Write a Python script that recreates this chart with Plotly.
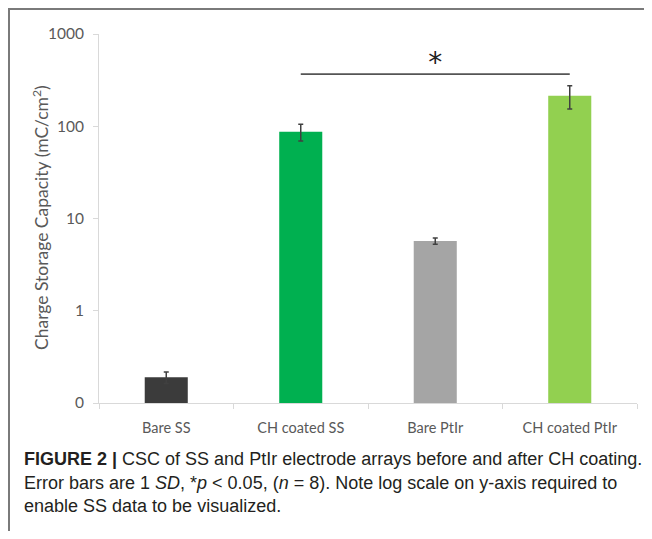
import plotly.graph_objects as go

categories = ["Bare SS", "CH coated SS", "Bare PtIr", "CH coated PtIr"]
csc_values = [0.19, 87, 5.7, 214]
csc_sd = [0.027, 18, 0.45, 60]
bar_colors = ["#3b3b3b", "#00b050", "#a5a5a5", "#92d050"]
y_tick_vals = [0.1, 1, 10, 100, 1000]
y_tick_text = ["0", "1", "10", "100", "1000"]
sig_pair = ["CH coated SS", "CH coated PtIr"]
sig_level = 367
star_pos = "Bare PtIr"
star_level = 460

# page body has an 8px margin; compensate so target pixel coords line up
OFF = 8
W, H = 652 - OFF, 539 - 2 * OFF
plot_left, plot_right, plot_top, plot_bottom = 99, 637, 34, 403
L = plot_left - OFF
R = W - (plot_right - OFF)
T = plot_top - OFF
B = H - (plot_bottom - OFF)
pw, ph = W - L - R, H - T - B

def px(x):
    return (x - plot_left) / pw

def py(y):
    return (plot_bottom - y) / ph

fig = go.Figure()
fig.add_trace(go.Bar(
    x=categories, y=csc_values, width=0.32,
    marker=dict(color=bar_colors, line=dict(width=0)),
    error_y=dict(type="data", array=csc_sd, visible=True,
                 color="#404040", thickness=1.5, width=2.5),
    showlegend=False,
))
fig.add_trace(go.Scatter(
    x=sig_pair, y=[sig_level, sig_level], mode="lines",
    line=dict(color="#555555", width=1.6), showlegend=False, hoverinfo="skip",
))
fig.add_trace(go.Scatter(
    x=[star_pos], y=[star_level], mode="text", text=["*"],
    textfont=dict(family="DejaVu Sans", size=28, color="#222222"),
    textposition="middle center", showlegend=False, hoverinfo="skip",
))

x_font = dict(family="Lato", size=14.5, color="#595959")
y_font = dict(family="Lato", size=15.5, color="#595959")
fig.update_layout(
    width=W, height=H,
    margin=dict(l=L, r=R, t=T, b=B),
    paper_bgcolor="white", plot_bgcolor="white",
    font=x_font,
    xaxis=dict(
        type="category", range=[-0.5, 3.5], showgrid=False,
        showline=True, linecolor="#d9d9d9", linewidth=1,
        ticks="outside", tickson="boundaries", ticklen=5, tickcolor="#d9d9d9",
        tickfont=x_font, zeroline=False, ticklabelstandoff=12,
    ),
    yaxis=dict(
        type="log", range=[-1, 3], showgrid=False, zeroline=False,
        showline=True, linecolor="#d9d9d9", linewidth=1,
        ticks="outside", ticklen=5, tickcolor="#d9d9d9",
        tickvals=y_tick_vals, ticktext=y_tick_text, tickfont=y_font,
        ticklabelstandoff=6,
    ),
    shapes=[
        dict(type="line", xref="paper", yref="paper",
             x0=px(8), x1=px(W + OFF), y0=py(9), y1=py(9),
             line=dict(color="#7a7a7a", width=2)),
        dict(type="line", xref="paper", yref="paper",
             x0=px(9), x1=px(9), y0=py(9), y1=py(H + OFF),
             line=dict(color="#7a7a7a", width=2)),
    ],
)

annotations = [
    dict(text="Charge Storage Capacity (mC/cm<sup>2</sup>)", textangle=-90,
         x=px(40), y=py(218), xref="paper", yref="paper",
         showarrow=False, xanchor="center", yanchor="middle",
         font=dict(family="Lato", size=17.5, color="#595959")),
]
caption_lines = [
    "<b>FIGURE 2 |</b> CSC of SS and PtIr electrode arrays before and after CH coating.",
    "Error bars are 1 <i>SD</i>, *<i>p</i> &lt; 0.05, (<i>n</i> = 8). Note log scale on y-axis required to",
    "enable SS data to be visualized.",
]
caption_y = [459, 483, 506]
for line, yy in zip(caption_lines, caption_y):
    annotations.append(dict(
        text=line, x=px(22), y=py(yy), xref="paper", yref="paper",
        showarrow=False, xanchor="left", yanchor="middle", align="left",
        font=dict(family="Liberation Sans", size=18, color="#231f20"),
    ))
fig.update_layout(annotations=annotations)

fig.write_html("out.html")
